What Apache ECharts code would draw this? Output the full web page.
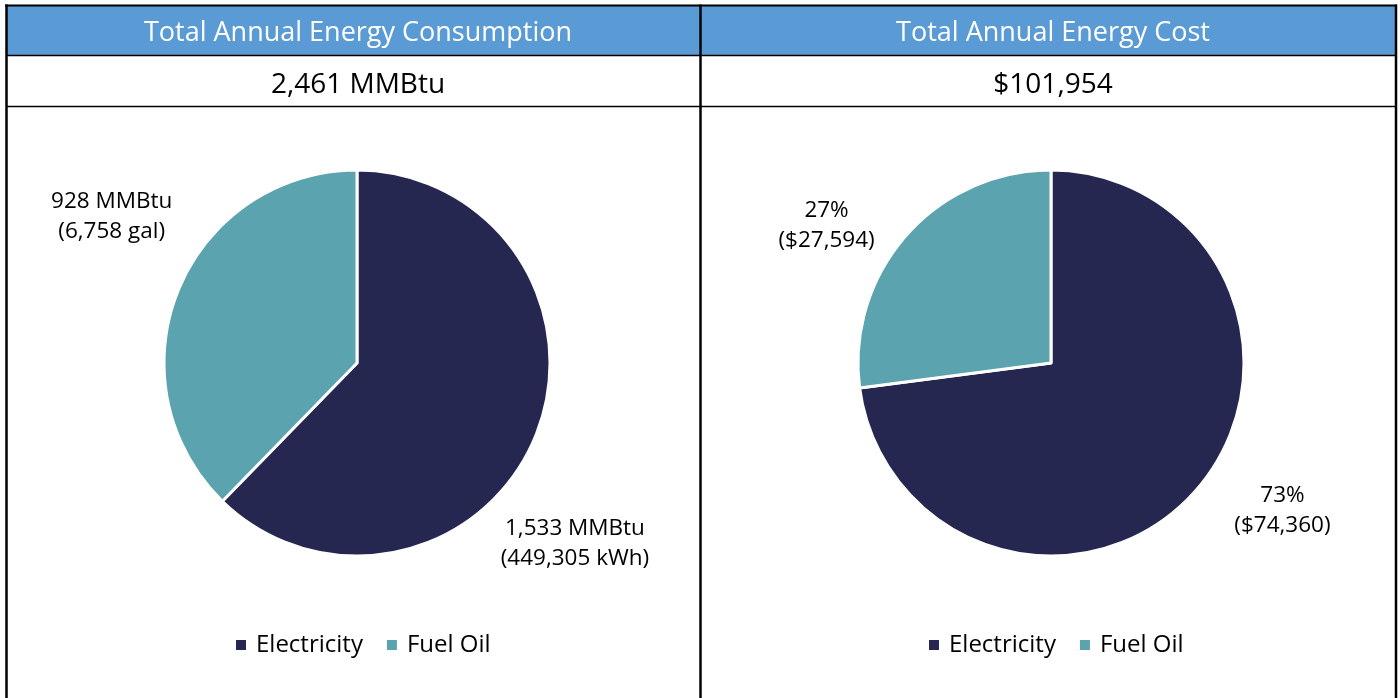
<!DOCTYPE html>
<html><head><meta charset="utf-8">
<script src="https://cdn.jsdelivr.net/npm/echarts@6/dist/echarts.min.js"></script>
<style>html,body{margin:0;padding:0;background:#fff;}#c{width:1400px;height:698px;}</style>
</head><body><div id="c"></div>
<script>
const categories = ['Electricity', 'Fuel Oil'];
const consumptionMMBtu = [1533, 928];
const consumptionUnits = ['449,305 kWh', '6,758 gal'];
const costValues = [74360, 27594];
const headerTitles = ['Total Annual Energy Consumption', 'Total Annual Energy Cost'];
const totalTexts = ['2,461 MMBtu', '$101,954'];
const colors = ['#262751', '#5ba3ae'];

const FONT = '"Open Sans", "Noto Sans", sans-serif';
const fmt = n => n.toLocaleString('en-US');
const totalCost = costValues.reduce((a, b) => a + b, 0);

const labelOffsets1 = [{dx: -54, dy: 102}, {dx: 13, dy: -68}];
const labelOffsets2 = [{dx: 22, dy: 10}, {dx: -15, dy: 0}];

function layoutFn(offs) {
  return function (p) {
    const r = p.labelRect, o = offs[p.dataIndex];
    return {x: r.x + r.width / 2 + o.dx, y: r.y + r.height / 2 + o.dy, align: 'center', verticalAlign: 'middle'};
  };
}

const chart = echarts.init(document.getElementById('c'), null, {renderer: 'canvas'});
const line = (x1, y1, x2, y2, w) => ({type: 'line', shape: {x1, y1, x2, y2}, style: {stroke: '#000', lineWidth: w}, z: 10});
const legendText = {fontFamily: FONT, fontSize: 24, color: '#000', padding: [0, 0, 0, 4]};

chart.setOption({
  backgroundColor: '#fff',
  animation: false,
  color: colors,
  graphic: [
    {type: 'rect', shape: {x: 7, y: 6, width: 1389, height: 49}, style: {fill: '#5b9bd5'}, z: 1},
    line(5, 5.5, 1397, 5.5, 2),
    line(6.5, 4.5, 6.5, 698, 2.5),
    line(700.5, 4.5, 700.5, 698, 2.5),
    line(1396, 4.5, 1396, 698, 2.5),
    line(7, 55.5, 1396, 55.5, 1.5),
    line(7, 106.5, 1396, 106.5, 1.5)
  ],
  title: [
    {text: headerTitles[0], left: 353, top: 15, textStyle: {color: '#fff', fontFamily: FONT, fontSize: 27, fontWeight: 'normal'}},
    {text: headerTitles[1], left: 1048, top: 15, textStyle: {color: '#fff', fontFamily: FONT, fontSize: 27, fontWeight: 'normal'}},
    {text: totalTexts[0], left: 353, top: 66, textStyle: {color: '#000', fontFamily: FONT, fontSize: 28, fontWeight: 'normal'}},
    {text: totalTexts[1], left: 1048, top: 66, textStyle: {color: '#000', fontFamily: FONT, fontSize: 28, fontWeight: 'normal'}}
  ].map(t => Object.assign(t, {textAlign: 'center'})),
  legend: [
    {data: categories, left: 229, top: 628, icon: 'rect', itemWidth: 12, itemHeight: 12, itemGap: 22,
     textStyle: legendText, selectedMode: false},
    {data: categories, left: 922, top: 628, icon: 'rect', itemWidth: 12, itemHeight: 12, itemGap: 22,
     textStyle: legendText, selectedMode: false}
  ],
  series: [
    {
      type: 'pie', center: [357, 363], radius: 193, startAngle: 90, clockwise: true,
      itemStyle: {borderColor: '#fff', borderWidth: 3},
      label: {show: true, position: 'outside', fontFamily: FONT, fontSize: 22.5, color: '#000', lineHeight: 30,
        formatter: p => fmt(p.value) + ' MMBtu\n(' + consumptionUnits[p.dataIndex] + ')'},
      labelLine: {show: false, length: 15, length2: 0},
      labelLayout: layoutFn(labelOffsets1),
      emphasis: {disabled: true},
      data: categories.map((c, i) => ({name: c, value: consumptionMMBtu[i]}))
    },
    {
      type: 'pie', center: [1051, 363], radius: 193, startAngle: 90, clockwise: true,
      itemStyle: {borderColor: '#fff', borderWidth: 3},
      label: {show: true, position: 'outside', fontFamily: FONT, fontSize: 22.5, color: '#000', lineHeight: 30,
        formatter: p => Math.round(p.value / totalCost * 100) + '%\n($' + fmt(p.value) + ')'},
      labelLine: {show: false, length: 15, length2: 0},
      labelLayout: layoutFn(labelOffsets2),
      emphasis: {disabled: true},
      data: categories.map((c, i) => ({name: c, value: costValues[i]}))
    }
  ]
});
</script></body></html>
